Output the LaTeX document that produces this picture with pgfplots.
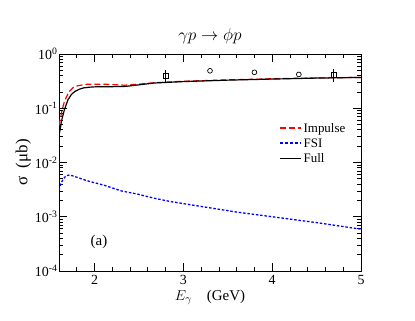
\documentclass[border=0pt]{standalone}
\usepackage{pgfplots}
\pgfplotsset{compat=1.18}
\usepackage{fontspec}
\setmainfont{Liberation Serif}
\begin{document}
\begin{tikzpicture}[x=1bp,y=1bp]
\path[use as bounding box] (0,0) rectangle (415,321);
\begin{axis}[
  name=ax,
  at={(59bp,50bp)}, anchor=south west,
  scale only axis, width=302bp, height=217bp,
  xmin=1.6, xmax=5, ymin=1e-4, ymax=1,
  ymode=log,
  axis line style={line width=0.9pt},
  tick style={line width=0.7pt, black},
  major tick length=8bp, minor tick length=4.5bp,
  tick align=inside,
  xtick={2,3,4,5}, minor xtick={1.6,1.8,...,5},
  ytick={1e-4,1e-3,1e-2,1e-1,1},
  yticklabels={10\textsuperscript{-4},10\textsuperscript{-3},10\textsuperscript{-2},10\textsuperscript{-1},10\textsuperscript{0}},
  /pgf/number format/assume math mode=true,
  ticklabel style={font=\fontsize{14}{14}\selectfont},
  yticklabel style={xshift=2bp},
  xticklabel style={yshift=-1bp},
  xlabel={$E_\gamma$\quad(GeV)},
  xlabel style={font=\fontsize{15}{15}\selectfont, yshift=2bp},
  ylabel={σ\ \ (μb)},
  ylabel style={font=\fontsize{17}{17}\selectfont, yshift=-3bp},
  legend style={draw=none, fill=none, at={(0.72,0.70)}, anchor=north west,
    font=\fontsize{13}{13}\selectfont, row sep=1bp},
  legend cell align=left,
  legend image code/.code={\draw[#1] (0cm,0.5bp) -- (0.72cm,0.5bp);},
]
\addlegendimage{red, line width=1.3pt, dash pattern=on 6bp off 3bp}
\addlegendentry{Impulse}
\addlegendimage{blue, line width=1.6pt, dash pattern=on 3bp off 2bp}
\addlegendentry{FSI}
\addlegendimage{black, line width=1.5pt}
\addlegendentry{Full}
\addplot[red, line width=1.2pt, dash pattern=on 6bp off 3bp, forget plot] coordinates {
(1.60,0.048) (1.63,0.085) (1.66,0.132) (1.71,0.20) (1.76,0.24) (1.81,0.26)
(1.92,0.278) (2.11,0.278) (2.34,0.266) (2.52,0.28) (2.67,0.295) (3.0,0.315)
(3.5,0.333) (4.0,0.35) (4.5,0.362) (5.0,0.37)};
\addplot[blue, line width=1.3pt, dash pattern=on 2.5bp off 1.8bp, forget plot] coordinates {
(1.60,0.0031) (1.62,0.0041) (1.65,0.0050) (1.68,0.0057) (1.72,0.0059) (1.75,0.0057)
(1.92,0.0046) (2.11,0.0038) (2.30,0.0030) (2.49,0.0026) (2.67,0.0022) (2.86,0.0019)
(3.22,0.00153) (3.6,0.00122) (4.0,0.0010) (4.5,0.00078) (5.0,0.00059)};
\addplot[black, line width=1.2pt, forget plot] coordinates {
(1.60,0.031) (1.63,0.06) (1.66,0.093) (1.70,0.142) (1.74,0.18) (1.78,0.205)
(1.83,0.225) (1.88,0.238) (1.95,0.245) (2.0,0.248) (2.11,0.25) (2.2,0.25)
(2.34,0.252) (2.5,0.27) (2.67,0.292) (3.0,0.31) (3.5,0.33) (4.0,0.345)
(4.5,0.36) (5.0,0.37)};
\addplot[only marks, mark=square, mark size=2.4bp, black, line width=0.7pt, forget plot,
  error bars/.cd, y dir=both, y explicit, error bar style={line width=0.7pt}, error mark=none]
  coordinates {(2.80,0.40) +- (0,0.11) (4.69,0.41) +- (0,0.11)};
\addplot[only marks, mark=o, mark size=2.4bp, black, line width=0.7pt, forget plot]
  coordinates {(3.30,0.49) (3.80,0.46) (4.30,0.42)};
\node[font=\fontsize{15}{15}\selectfont] at (axis cs:2.05,3.4e-4) {(a)};
\end{axis}
\node[font=\fontsize{17}{17}\selectfont, anchor=base] at ([yshift=14bp]ax.north) {$\gamma p \rightarrow \phi p$};
\end{tikzpicture}
\end{document}
